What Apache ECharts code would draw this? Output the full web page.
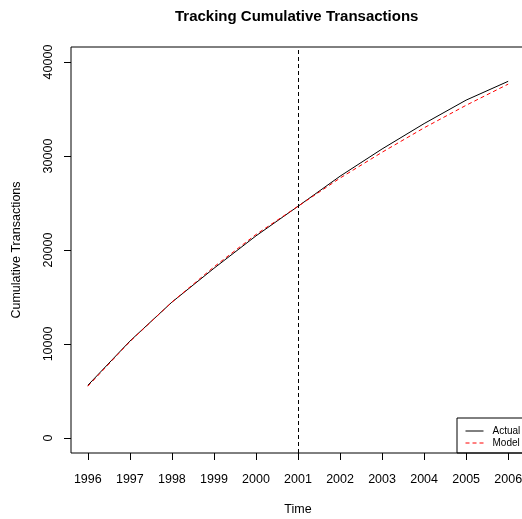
<!DOCTYPE html>
<html>
<head>
<meta charset="utf-8">
<script src="https://cdn.jsdelivr.net/npm/echarts@6/dist/echarts.min.js"></script>
<style>html,body{margin:0;padding:0;background:#fff;}#c{width:522px;height:519px;}</style>
</head>
<body>
<div id="c"></div>
<script>
const years = [1996, 1997, 1998, 1999, 2000, 2001, 2002, 2003, 2004, 2005, 2006];
const actual = [5600, 10300, 14450, 18050, 21500, 24650, 27850, 30750, 33450, 35950, 37950];
const model  = [5500, 10250, 14450, 18200, 21650, 24650, 27650, 30400, 33000, 35400, 37650];
const yTicks = [0, 10000, 20000, 30000, 40000];
const splitYear = 2001;
const titleText = 'Tracking Cumulative Transactions';
const xName = 'Time';
const yName = 'Cumulative Transactions';

const FONT = 'Liberation Sans, Arial, Helvetica, sans-serif';
const chart = echarts.init(document.getElementById('c'), null, {renderer: 'canvas'});
chart.setOption({
  animation: false,
  backgroundColor: '#fff',
  title: {
    text: titleText, left: 175, top: 9, padding: 0,
    textStyle: {fontFamily: FONT, fontSize: 15, fontWeight: 'bold', color: '#000'}
  },
  legend: {
    orient: 'vertical', left: 457, top: 418,
    padding: [8, 12, 5, 8], itemGap: 2,
    itemWidth: 18, itemHeight: 10,
    borderColor: '#000', borderWidth: 1, borderRadius: 0,
    itemStyle: {opacity: 0},
    lineStyle: {width: 1},
    textStyle: {fontFamily: FONT, fontSize: 10, color: '#000', padding: [0, 0, 0, 4]},
    data: ['Actual', 'Model']
  },
  grid: {left: 71, top: 47, width: 454, height: 406, outerBoundsMode: 'none', containLabel: false,
         show: true, borderColor: '#000', borderWidth: 1, backgroundColor: 'transparent'},
  xAxis: {
    type: 'value', min: 1995.6, max: 2006.4,
    name: xName, nameLocation: 'middle', nameGap: 50,
    nameTextStyle: {fontFamily: FONT, fontSize: 12.5, color: '#000'},
    axisLine: {show: false, onZero: false},
    splitLine: {show: false},
    axisTick: {show: true, length: 7, lineStyle: {color: '#000'}, customValues: years},
    axisLabel: {fontFamily: FONT, fontSize: 12.5, color: '#000', margin: 20, customValues: years, formatter: v => String(v)}
  },
  yAxis: {
    type: 'value', min: -1600, max: 41600,
    name: yName, nameLocation: 'middle', nameGap: 48,
    nameTextStyle: {fontFamily: FONT, fontSize: 12.5, color: '#000'},
    axisLine: {show: false, onZero: false},
    splitLine: {show: false},
    axisTick: {show: true, length: 7, lineStyle: {color: '#000'}, customValues: yTicks},
    axisLabel: {fontFamily: FONT, fontSize: 12.5, color: '#000', margin: 16, rotate: 90, customValues: yTicks, formatter: v => String(v)}
  },
  series: [
    {
      name: 'Actual', type: 'line', symbol: 'none',
      data: years.map((y, i) => [y, actual[i]]),
      lineStyle: {color: '#000', width: 1}, itemStyle: {color: '#000'},
      markLine: {
        silent: true, symbol: 'none', label: {show: false},
        lineStyle: {color: '#000', width: 1, type: [4, 3]},
        data: [{xAxis: splitYear}]
      }
    },
    {
      name: 'Model', type: 'line', symbol: 'none',
      data: years.map((y, i) => [y, model[i]]),
      lineStyle: {color: '#ff0000', width: 1, type: [4, 3]}, itemStyle: {color: '#ff0000'}
    }
  ]
});
</script>
</body>
</html>
